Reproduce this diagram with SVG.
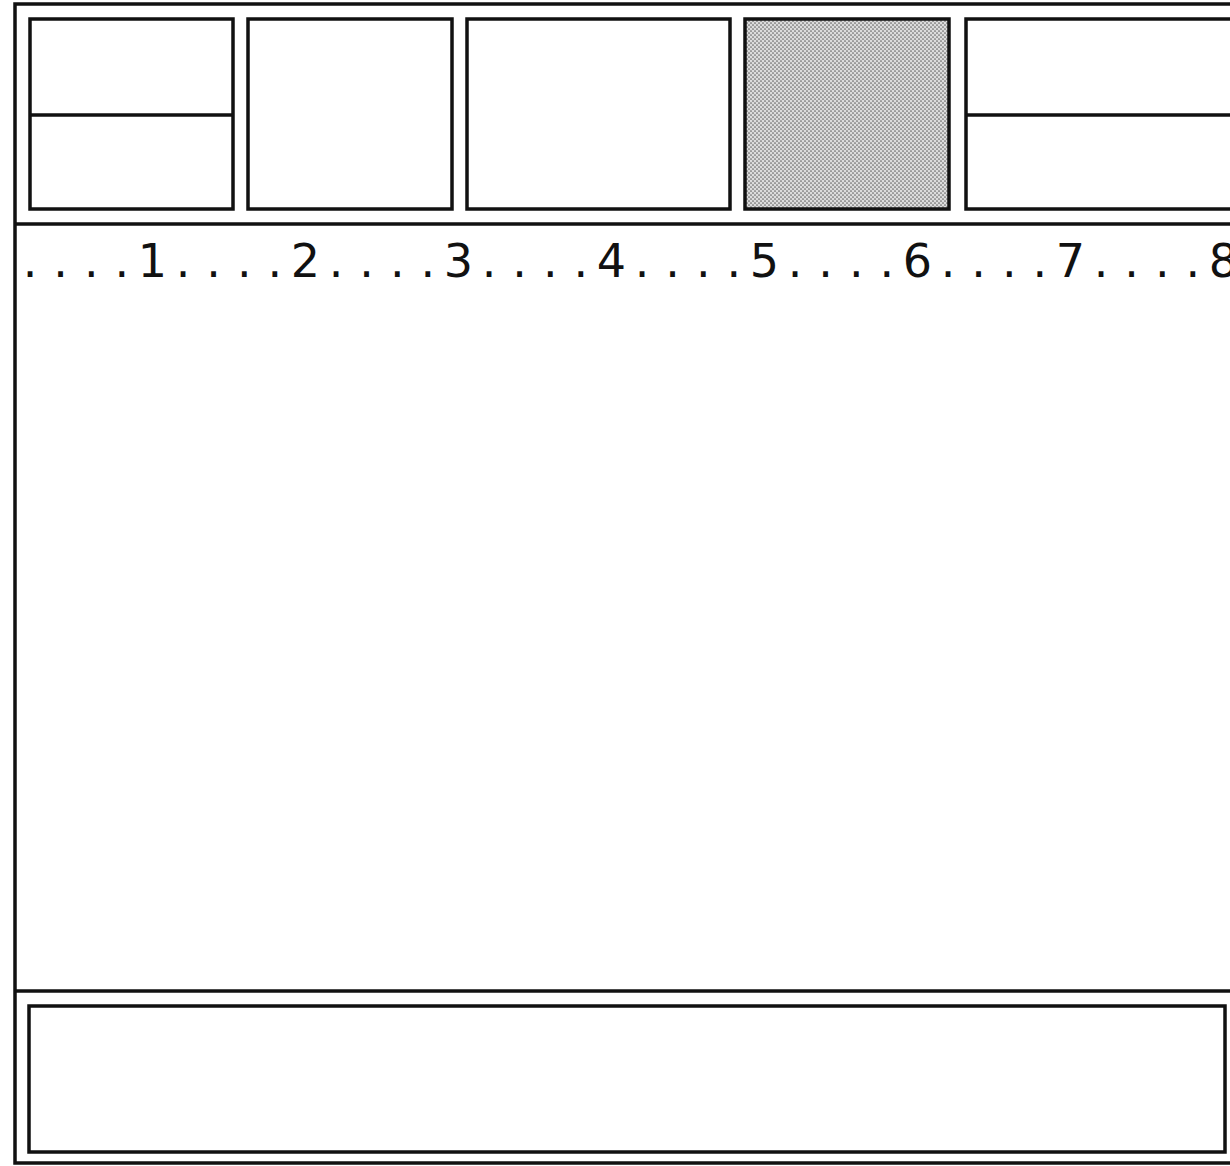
<svg xmlns="http://www.w3.org/2000/svg" width="1230" height="1166" viewBox="0 0 1230 1166">
  <style>
    .ln { fill: none; stroke: #111; stroke-width: 3.5; }
    .box { fill: #fff; stroke: #111; stroke-width: 3.5; }
    .ruler { font-family: "DejaVu Sans", "Liberation Sans", sans-serif; font-size: 46px; fill: #111; text-anchor: middle; }
  </style>
  <defs>
    <pattern id="dots" width="4" height="4" patternUnits="userSpaceOnUse">
      <rect width="4" height="4" fill="#dcdcdc"/>
      <circle cx="1" cy="1" r="0.85" fill="#666"/>
      <circle cx="3" cy="3" r="0.85" fill="#666"/>
    </pattern>
  </defs>
  <rect width="1230" height="1166" fill="#fff"/>
  <g id="frame">
    <rect class="ln" x="15" y="4" width="1240" height="1159"/>
    <line class="ln" x1="15" y1="224" x2="1240" y2="224"/>
    <line class="ln" x1="15" y1="991" x2="1240" y2="991"/>
  </g>
  <g id="box1">
    <rect class="box" x="30" y="19" width="203" height="190"/>
    <line class="ln" x1="30" y1="115" x2="233" y2="115"/>
  </g>
  <g id="box2">
    <rect class="box" x="248" y="19" width="204" height="190"/>
  </g>
  <g id="box3">
    <rect class="box" x="467" y="19" width="263" height="190"/>
  </g>
  <g id="box4">
    <rect x="745" y="19" width="204" height="190" fill="url(#dots)" stroke="#111" stroke-width="3.5"/>
  </g>
  <g id="box5">
    <rect class="box" x="966" y="19" width="280" height="190"/>
    <line class="ln" x1="966" y1="115" x2="1240" y2="115"/>
  </g>
  <g id="ruler">
    <text class="ruler" y="277" x="30 60.6 91.2 121.8 152.4 183 213.6 244.2 274.8 305.4 336 366.6 397.2 427.8 458.4 489 519.6 550.2 580.8 611.4 642 672.6 703.2 733.8 764.4 795 825.6 856.2 886.8 917.4 948 978.6 1009.2 1039.8 1070.4 1101 1131.6 1162.2 1192.8 1223.4">....1....2....3....4....5....6....7....8</text>
  </g>
  <g id="box6">
    <rect class="box" x="29" y="1006" width="1196" height="146"/>
  </g>
  <g id="connectors"></g>
</svg>
